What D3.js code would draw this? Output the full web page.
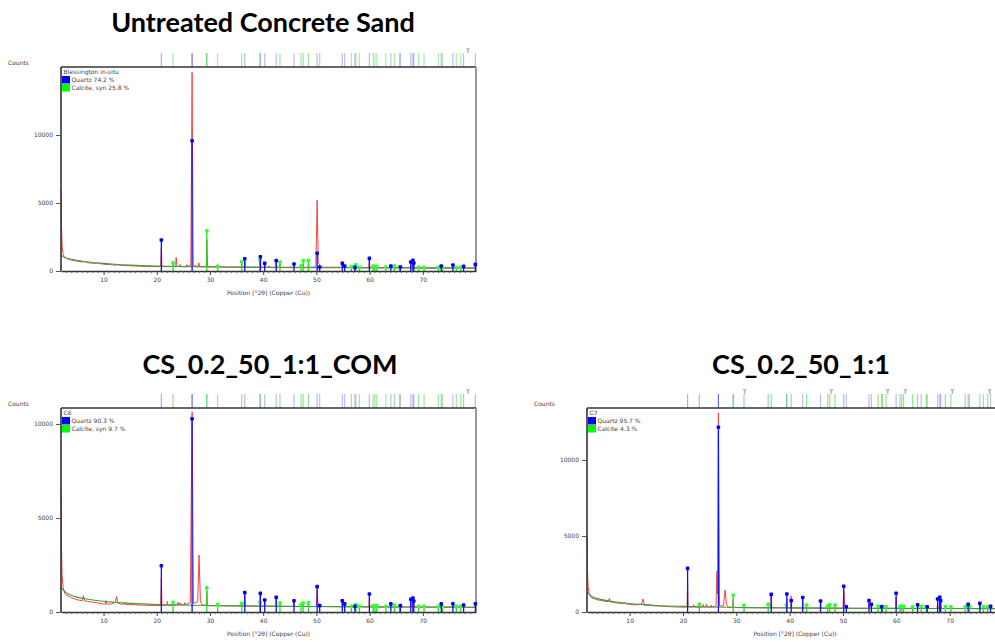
<!DOCTYPE html>
<html>
<head>
<meta charset="utf-8">
<script src="https://cdn.jsdelivr.net/npm/d3@7"></script>
<style>
  body { margin: 0; background: #fff; }
  svg { display: block; }
  text { font-family: "DejaVu Sans", sans-serif; }
  .title { font-family: Lato, "Open Sans", sans-serif; font-weight: 700; font-size: 27px; fill: #000; }
  .small { font-size: 6px; fill: #444; }
</style>
</head>
<body>
<svg width="995" height="642"></svg>
<script>
// ---- data ----
const titles = ["Untreated Concrete Sand", "CS_0.2_50_1:1_COM", "CS_0.2_50_1:1"];
const sampleNames = ["Blessington in-situ", "C6", "C7"];
const quartzLabels = ["Quartz 74.2 %", "Quartz 90.3 %", "Quartz 95.7 %"];
const calciteLabels = ["Calcite, syn 25.8 %", "Calcite, syn 9.7 %", "Calcite 4.3 %"];
const yTicks = [0, 5000, 10000];
const xTicks = [10, 20, 30, 40, 50, 60, 70];

// reference peak positions (°2θ)
const quartzPos = [20.86, 26.64, 36.54, 39.47, 40.29, 42.45, 45.79, 50.14, 50.62, 54.87, 55.32,
  57.24, 59.96, 63.99, 65.79, 67.74, 68.14, 68.31, 73.47, 75.66, 77.67, 79.88];
const calcitePos = [23.06, 29.41, 31.44, 35.97, 39.40, 43.16, 47.12, 47.51, 48.51, 56.57, 57.41,
  58.08, 60.68, 61.01, 61.36, 63.06, 64.67, 65.62, 69.20, 70.24, 72.92, 73.70, 76.30, 77.14];

// stick heights (counts) per sample
const quartzA = [2280, 9580, 900, 1050, 560, 760, 510, 1300, 290, 560, 370, 270, 930, 370, 290, 660, 790, 590, 370, 440, 340, 490];
const calciteA = [610, 2960, 340, 680, 810, 660, 390, 760, 790, 320, 460, 270, 370, 320, 320, 290, 370, 290, 270, 270, 270, 260, 260, 270];
const quartzB = [2460, 10280, 1030, 990, 640, 780, 600, 1350, 340, 600, 430, 300, 960, 430, 340, 680, 745, 585, 430, 440, 370, 440];
const calciteB = [515, 1290, 390, 460, 515, 480, 390, 480, 500, 300, 390, 300, 340, 340, 340, 300, 370, 300, 300, 300, 300, 280, 300, 300];
const quartzC = [2870, 12150, 1160, 1180, 750, 950, 720, 1690, 350, 750, 500, 350, 1230, 480, 350, 860, 970, 750, 500, 570, 370, 460];
const calciteC = [500, 1100, 440, 500, 460, 460, 390, 480, 460, 370, 370, 350, 370, 370, 370, 350, 370, 350, 350, 350, 350, 370, 350, 350];

// observed scans [°2θ, counts]
const scanA = [[2.0,5900],[2.08,3600],[2.2,1900],[2.35,1300],[2.6,1050],[3,930],[3.5,860],[4,800],[5,720],[6,660],
  [6.5,690],[7,610],[8,570],[8.8,560],[9.0,640],[9.2,550],[10,500],[11,470],[12.5,430],[12.7,480],[12.9,420],
  [14,400],[16,370],[18,340],[20,320],[20.75,330],[20.86,1700],[20.97,330],[22,320],[23.0,330],[23.1,520],[23.2,330],
  [23.55,340],[23.65,1000],[23.78,340],[24.25,330],[24.35,480],[24.45,330],[25.55,330],[25.65,470],[25.75,330],
  [26.4,420],[26.64,14600],[26.85,420],[27.8,330],[27.9,600],[28.05,320],[29.3,330],[29.41,2300],[29.55,320],
  [31.35,300],[31.44,380],[31.55,300],[35.9,290],[35.97,560],[36.05,290],[36.45,290],[36.54,800],[36.65,290],
  [39.35,290],[39.45,1000],[39.58,290],[40.2,290],[40.29,550],[40.4,280],[41.0,280],[41.1,380],[41.2,280],
  [42.35,280],[42.45,700],[42.55,280],[43.08,280],[43.16,560],[43.26,280],[45.1,270],[45.2,340],[45.3,270],
  [45.7,270],[45.79,480],[45.9,270],[47.05,270],[47.12,350],[47.22,270],[47.42,270],[47.51,520],[47.62,270],
  [48.42,270],[48.51,560],[48.62,270],[49.9,300],[50.14,5200],[50.35,600],[50.62,450],[50.9,280],
  [54.78,270],[54.87,520],[54.97,270],[55.25,260],[55.32,380],[55.42,260],[57.32,260],[57.41,380],[57.5,260],
  [59.88,260],[59.96,850],[60.06,260],[60.92,250],[61.0,320],[61.1,250],[63.9,250],[63.99,420],[64.1,250],
  [64.6,250],[64.67,340],[64.76,250],[65.7,250],[65.79,370],[65.9,250],[67.65,250],[67.74,560],[67.85,250],
  [68.05,250],[68.14,680],[68.31,520],[68.45,245],[73.38,240],[73.47,380],[73.56,240],[75.57,240],[75.66,430],
  [75.76,240],[77.58,240],[77.67,330],[77.77,240],[79.8,240],[79.88,520],[80,240]];
const scanB = [[2.0,6500],[2.07,3800],[2.2,2000],[2.4,1300],[2.7,1000],[3,900],[4,760],[5,650],[6,600],[6.2,870],
  [6.45,600],[7,560],[8,520],[9,480],[10,420],[10.35,420],[10.45,600],[10.6,420],[11.5,430],[12.2,520],[12.45,820],
  [12.7,480],[13.2,420],[13.9,420],[14.0,520],[14.15,400],[16,380],[18,360],[20,340],[20.75,350],[20.86,1800],
  [20.97,350],[21.9,350],[22.0,560],[22.1,350],[23.0,360],[23.1,480],[23.2,360],[23.9,380],[24.0,520],[24.1,380],
  [24.3,380],[24.4,480],[24.5,380],[25.2,380],[25.3,500],[25.4,380],[26.3,500],[26.64,10650],[26.9,450],
  [27.7,550],[27.95,3030],[28.2,600],[28.5,380],[29.3,350],[29.41,1100],[29.52,350],[30,330],[31.35,330],
  [31.44,420],[31.55,330],[35.9,320],[36.0,420],[36.1,320],[36.45,320],[36.54,850],[36.65,320],[39.35,310],
  [39.45,850],[39.55,310],[40.2,310],[40.29,560],[40.4,310],[42.35,300],[42.45,650],[42.55,300],[43.08,300],
  [43.16,420],[43.25,300],[45.7,290],[45.79,520],[45.9,290],[47.4,290],[47.51,420],[47.62,290],[48.4,290],
  [48.51,440],[48.62,290],[50.0,300],[50.14,1150],[50.3,500],[50.6,400],[50.9,290],[54.8,280],[54.87,520],
  [54.95,280],[55.25,280],[55.32,400],[55.4,280],[57.3,280],[57.41,360],[57.5,280],[59.88,270],[59.96,820],
  [60.05,270],[63.9,265],[63.99,400],[64.1,265],[67.65,265],[67.74,580],[67.85,265],[68.05,265],[68.14,650],
  [68.31,520],[68.45,260],[73.4,260],[73.47,380],[73.55,260],[75.6,255],[75.66,400],[75.75,255],[79.8,250],
  [79.88,420],[80,250]];
const scanC = [[2.0,5000],[2.07,3000],[2.2,1700],[2.4,1200],[2.7,1000],[3,920],[4,800],[5,730],[6,680],[6.2,900],
  [6.45,660],[7,620],[8,580],[9,560],[9.1,620],[9.2,540],[10,500],[11,470],[12.2,500],[12.5,860],[12.75,450],
  [13.5,430],[13.8,480],[14.0,420],[16,380],[18,340],[20,320],[20.78,330],[20.86,2000],[20.95,330],[21.9,320],
  [22.0,480],[22.1,320],[23.0,320],[23.1,430],[23.2,320],[23.7,320],[23.8,500],[23.9,320],[24.3,330],[24.4,520],
  [24.5,330],[25.2,320],[25.3,460],[25.4,320],[26.2,400],[26.35,2700],[26.5,1200],[26.64,13100],[26.85,400],
  [27.6,400],[27.9,1450],[28.15,500],[28.5,320],[29.3,300],[29.41,800],[29.52,300],[31.35,280],[31.44,360],
  [31.55,280],[36.45,270],[36.54,1050],[36.65,270],[39.35,270],[39.47,900],[39.6,270],[40.2,260],[40.29,1050],
  [40.4,260],[42.35,260],[42.45,800],[42.55,260],[45.7,250],[45.79,600],[45.9,250],[50.0,250],[50.14,1450],
  [50.3,500],[50.62,450],[50.8,250],[54.8,240],[54.87,600],[54.95,240],[55.25,240],[55.32,420],[55.4,240],
  [59.88,240],[59.96,1000],[60.05,240],[63.9,235],[63.99,420],[64.1,235],[67.65,235],[67.74,700],[67.85,235],
  [68.05,235],[68.14,800],[68.31,600],[68.45,230],[73.4,230],[73.47,420],[73.55,230],[75.6,225],[75.66,480],
  [75.75,225],[79.8,220],[79.88,400],[80,220]];

// fitted background curves
const bgA = [[2.0,1150],[2.5,1050],[3,950],[4,860],[5,790],[6,720],[8,630],[10,560],[12,500],[15,430],[20,360],
  [25,320],[30,290],[40,260],[50,240],[60,230],[70,215],[80,205]];
const bgB = [[2.0,1310],[2.5,1150],[3,1020],[4,880],[5,790],[6,730],[8,640],[10,570],[12,520],[15,460],[20,400],
  [25,370],[30,345],[40,310],[50,290],[60,275],[70,265],[80,255]];
const bgC = [[2.0,1300],[2.5,1150],[3,1000],[4,880],[5,800],[6,730],[8,640],[10,560],[12,500],[15,430],[20,370],
  [25,330],[30,300],[40,270],[50,250],[60,240],[70,230],[80,220]];

// grey "Y" flags over the reference strip
const flagsA = [78.5];
const flagsB = [78.5];
const flagsC = [31.6, 47.8, 58.4, 61.7, 70.5, 77.5];

const svg = d3.select("svg");

const panels = [
  { title: titles[0], name: sampleNames[0], q: quartzLabels[0], c: calciteLabels[0],
    scan: scanA, bg: bgA, qh: quartzA, ch: calciteA, flags: flagsA, yMax: 15000,
    left: 61, right: 476, top: 67, bottom: 271, titleX: 263, titleY: 32 },
  { title: titles[1], name: sampleNames[1], q: quartzLabels[1], c: calciteLabels[1],
    scan: scanB, bg: bgB, qh: quartzB, ch: calciteB, flags: flagsB, yMax: 10850,
    left: 61, right: 476, top: 408, bottom: 612, titleX: 270, titleY: 374 },
  { title: titles[2], name: sampleNames[2], q: quartzLabels[2], c: calciteLabels[2],
    scan: scanC, bg: bgC, qh: quartzC, ch: calciteC, flags: flagsC, yMax: 13420,
    left: 587, right: 1003, top: 408, bottom: 612, titleX: 801, titleY: 374 }
];

panels.forEach((p, i) => {
  const g = svg.append("g");
  const x = d3.scaleLinear().domain([2, 80]).range([p.left, p.right]);
  const y = d3.scaleLinear().domain([0, p.yMax]).range([p.bottom, p.top]);

  g.append("text").attr("class", "title")
    .attr("x", p.titleX).attr("y", p.titleY)
    .attr("text-anchor", "middle").text(p.title);

  g.append("text").attr("class", "small")
    .attr("x", p.left - 53).attr("y", p.top - 2).text("Counts");

  // reference strip above the plot
  const strip = g.append("g");
  const qOp = d3.scaleLinear().domain([0, d3.max(p.qh)]).range([0.35, 0.85]);
  const cOp = d3.scaleLinear().domain([0, d3.max(p.ch)]).range([0.35, 0.85]);
  strip.selectAll("line.q").data(quartzPos).enter().append("line")
    .attr("x1", d => x(d)).attr("x2", d => x(d))
    .attr("y1", p.top - 14).attr("y2", p.top)
    .attr("stroke", "#5050e0").attr("stroke-width", 1.2)
    .attr("stroke-opacity", (d, j) => qOp(p.qh[j]));
  strip.selectAll("line.c").data(calcitePos).enter().append("line")
    .attr("x1", d => x(d)).attr("x2", d => x(d))
    .attr("y1", p.top - 14).attr("y2", p.top)
    .attr("stroke", "#30d030").attr("stroke-width", 1.2)
    .attr("stroke-opacity", (d, j) => cOp(p.ch[j]));
  strip.selectAll("path.flag").data(p.flags).enter().append("path")
    .attr("d", d => `M${x(d)},${p.top - 14} V${p.top - 17} M${x(d) - 1.5},${p.top - 19} L${x(d)},${p.top - 17} L${x(d) + 1.5},${p.top - 19}`)
    .attr("stroke", "#aaa").attr("stroke-width", 1.2).attr("fill", "none");

  // frame
  g.append("line").attr("x1", p.left).attr("x2", p.right).attr("y1", p.top).attr("y2", p.top)
    .attr("stroke", "#333").attr("stroke-width", 1.4);
  g.append("line").attr("x1", p.right).attr("x2", p.right).attr("y1", p.top).attr("y2", p.bottom)
    .attr("stroke", "#999").attr("stroke-width", 2);

  // scan + background
  const line = d3.line().x(d => x(d[0])).y(d => y(d[1]));
  g.append("path").datum(p.scan).attr("d", line)
    .attr("fill", "none").attr("stroke", "#f04545").attr("stroke-width", 1);
  g.append("path").datum(p.bg).attr("d", d3.line().curve(d3.curveMonotoneX).x(d => x(d[0])).y(d => y(d[1])))
    .attr("fill", "none").attr("stroke", "#3c9c3c").attr("stroke-width", 1.1);

  // phase sticks
  const sticks = (pos, h, col, dot) => {
    const s = g.append("g");
    s.selectAll("line").data(pos).enter().append("line")
      .attr("x1", d => x(d)).attr("x2", d => x(d))
      .attr("y1", y(0)).attr("y2", (d, j) => y(h[j]))
      .attr("stroke", col).attr("stroke-width", 1.3);
    s.selectAll("rect").data(pos).enter().append("rect")
      .attr("x", d => x(d) - 1.8).attr("y", (d, j) => y(h[j]) - 1.8)
      .attr("width", 3.6).attr("height", 3.6).attr("rx", 1)
      .attr("fill", dot);
  };
  sticks(calcitePos, p.ch, "#22dd22", "#33ff33");
  sticks(quartzPos, p.qh, "#1010ff", "#0000ff");

  // axes
  const ya = d3.axisLeft(y).tickValues(yTicks).tickSize(5).tickSizeOuter(0).tickFormat(d3.format("d"));
  const yg = g.append("g").attr("transform", `translate(${p.left},0)`).call(ya);
  yg.select(".domain").attr("stroke", "#333").attr("stroke-width", 1.6)
    .attr("d", `M0,${p.top}V${p.bottom}`);
  yg.selectAll(".tick line").attr("stroke", "#555");
  yg.selectAll("text").attr("class", "small").attr("font-size", null).attr("font-family", null)
    .attr("x", -8);

  const xa = d3.axisBottom(x).tickValues(xTicks).tickSize(4).tickSizeOuter(0);
  const xg = g.append("g").attr("transform", `translate(0,${p.bottom})`).call(xa);
  xg.select(".domain").attr("stroke", "#333").attr("stroke-width", 1.6);
  xg.selectAll(".tick line").attr("stroke", "#444");
  xg.selectAll("text").attr("class", "small").attr("font-size", null).attr("font-family", null)
    .attr("y", 7);
  const minor = d3.range(3, 80, 1).filter(v => v % 10 !== 0);
  xg.selectAll("line.minor").data(minor).enter().append("line")
    .attr("x1", d => x(d)).attr("x2", d => x(d)).attr("y1", 0).attr("y2", 2.2)
    .attr("stroke", "#555").attr("stroke-width", 0.8);

  g.append("text").attr("class", "small")
    .attr("x", x(41)).attr("y", p.bottom + 24).attr("text-anchor", "middle")
    .text("Position [°2θ] (Copper (Cu))");

  // legend
  const lg = g.append("g").attr("transform", `translate(${p.left + 1},${p.top})`);
  lg.append("text").attr("class", "small").attr("x", 1.5).attr("y", 7).attr("fill", "#222").text(p.name);
  lg.append("rect").attr("x", 0).attr("y", 9).attr("width", 8).attr("height", 7.5).attr("fill", "#0000ff");
  lg.append("rect").attr("x", 0).attr("y", 17).attr("width", 8).attr("height", 7.5).attr("fill", "#00ff00");
  lg.append("text").attr("class", "small").attr("x", 9.5).attr("y", 15).text(p.q);
  lg.append("text").attr("class", "small").attr("x", 9.5).attr("y", 23).text(p.c);
});
</script>
</body>
</html>
